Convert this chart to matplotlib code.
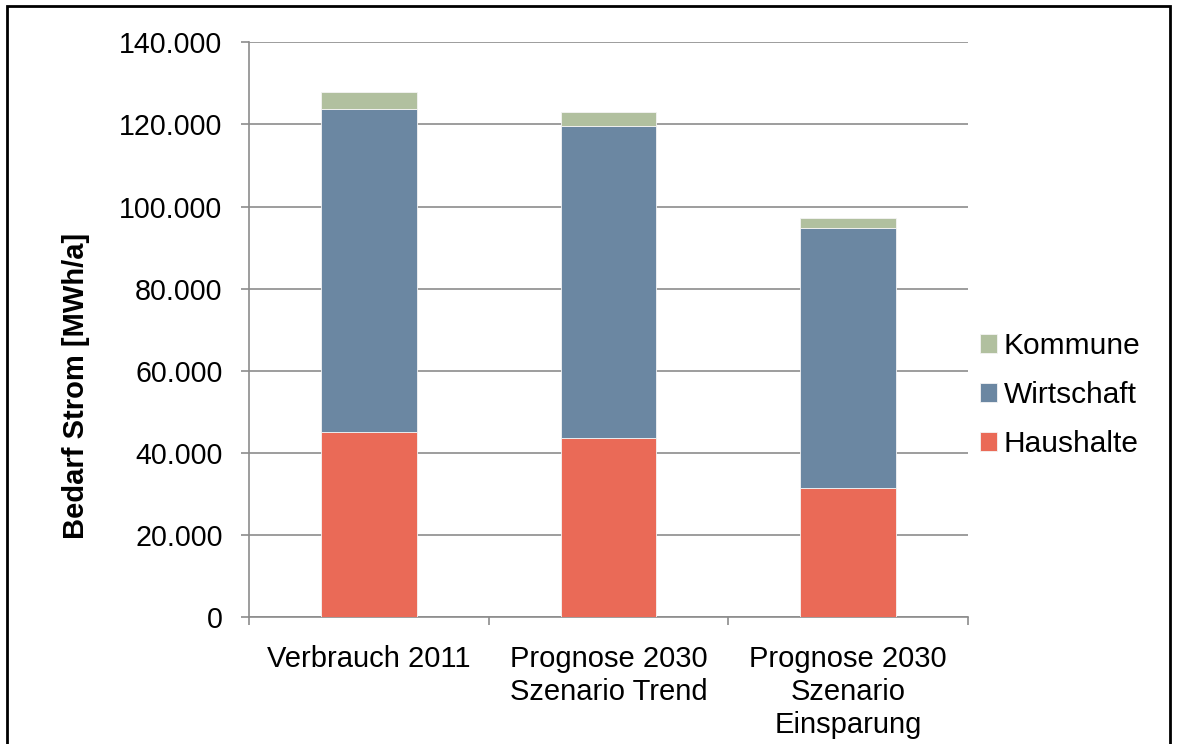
import matplotlib.pyplot as plt
from matplotlib.patches import Rectangle
from matplotlib.ticker import FuncFormatter, FixedLocator

# === Data ===
categories = ["Verbrauch 2011", "Prognose 2030\nSzenario Trend", "Prognose 2030\nSzenario\nEinsparung"]
haushalte = [45000, 43500, 31400]
wirtschaft = [78800, 76100, 63300]
kommune = [4000, 3300, 2500]

# Colours
C_HAUSHALTE = "#EA6A57"
C_WIRTSCHAFT = "#6B87A2"
C_KOMMUNE = "#B1C09F"
GRID_GREY = "#8C8C8C"

plt.rcParams["font.family"] = ["Liberation Sans", "DejaVu Sans"]

W, H = 1177, 744
fig = plt.figure(figsize=(W / 100, H / 100), dpi=100)
ax = fig.add_axes([249 / W, 1 - 617 / H, (968 - 249) / W, (617 - 42.3) / H])

x = list(range(len(categories)))
bottom2 = [h + w for h, w in zip(haushalte, wirtschaft)]
bar_kw = dict(width=0.4, edgecolor="#F4F4F4", linewidth=0.6, zorder=3)
ax.bar(x, haushalte, color=C_HAUSHALTE, label="Haushalte", **bar_kw)
ax.bar(x, wirtschaft, bottom=haushalte, color=C_WIRTSCHAFT, label="Wirtschaft", **bar_kw)
ax.bar(x, kommune, bottom=bottom2, color=C_KOMMUNE, label="Kommune", **bar_kw)

ax.set_xlim(-0.5, len(categories) - 0.5)
ax.set_ylim(0, 140000)
ax.set_yticks(range(0, 140001, 20000))
ax.yaxis.set_major_formatter(FuncFormatter(lambda v, _: f"{int(v):,}".replace(",", ".")))
ax.grid(axis="y", color=GRID_GREY, linewidth=1.2, zorder=0)

# category boundaries get the ticks, labels sit on minor ticks in the middle
ax.xaxis.set_major_locator(FixedLocator([-0.5, 0.5, 1.5, 2.5]))
ax.xaxis.set_major_formatter(FuncFormatter(lambda v, _: ""))
ax.xaxis.set_minor_locator(FixedLocator(x))
ax.set_xticklabels(categories, minor=True, linespacing=1.24)
ax.tick_params(axis="x", which="major", direction="out", length=6, width=1.2, color=GRID_GREY)
ax.tick_params(axis="x", which="minor", length=0, pad=20, labelsize=21)
ax.tick_params(axis="y", direction="out", length=6, width=1.2, color=GRID_GREY, pad=13, labelsize=20.6)

for side in ["top", "right"]:
    ax.spines[side].set_visible(False)
for side in ["left", "bottom"]:
    ax.spines[side].set_color(GRID_GREY)
    ax.spines[side].set_linewidth(1.2)

ax.set_ylabel("Bedarf Strom [MWh/a]", fontsize=21, fontweight="bold")
ax.yaxis.set_label_coords(-0.221, 0.402)

handles, labels = ax.get_legend_handles_labels()
fig.legend(handles[::-1], labels[::-1], loc="center left",
           bbox_to_anchor=(980 / W, 1 - 395 / H), frameon=False, fontsize=21.5,
           handlelength=0.58, handleheight=0.62, handletextpad=0.22,
           labelspacing=0.70, borderpad=0, borderaxespad=0)

# outer frame
fig.patches.append(Rectangle((7 / W, -0.01), (1170 - 7) / W, 1.01 - 6 / H,
                             transform=fig.transFigure, fill=False,
                             edgecolor="black", linewidth=2))

fig.savefig("out.png", dpi=100)
